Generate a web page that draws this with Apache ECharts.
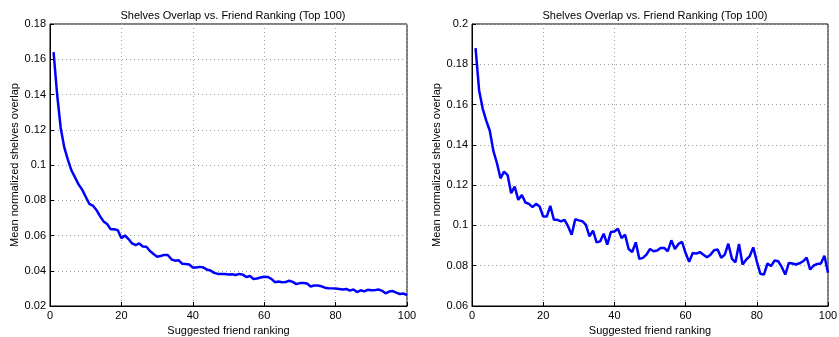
<!DOCTYPE html>
<html>
<head>
<meta charset="utf-8">
<script src="https://cdn.jsdelivr.net/npm/echarts@6/dist/echarts.min.js"></script>
<style>
  html, body { margin: 0; padding: 0; background: #fff; }
  #chart { width: 839px; height: 337px; }
</style>
</head>
<body>
<div id="chart"></div>
<script>
// mean normalized shelves overlap, rank 1..100
var leftValues = [
  0.164, 0.140, 0.121, 0.110, 0.103, 0.097, 0.093, 0.089, 0.086, 0.082,
  0.078, 0.077, 0.0745, 0.071, 0.068, 0.0665, 0.0635, 0.0635, 0.063, 0.0585,
  0.0600, 0.0580, 0.0555, 0.0545, 0.0555, 0.0538, 0.0536, 0.0512, 0.0495, 0.0479,
  0.0484, 0.0490, 0.0489, 0.0465, 0.0457, 0.0460, 0.0440, 0.0438, 0.0435, 0.0418,
  0.0418, 0.0422, 0.0418, 0.0406, 0.0401, 0.0388, 0.0382, 0.0381, 0.0381, 0.0379,
  0.0380, 0.0376, 0.0382, 0.0378, 0.0364, 0.0370, 0.0353, 0.0356, 0.0362, 0.0366,
  0.0365, 0.0354, 0.0335, 0.0339, 0.0335, 0.0336, 0.0343, 0.0337, 0.0324, 0.0330,
  0.0331, 0.0328, 0.0311, 0.0316, 0.0316, 0.0312, 0.0304, 0.0301, 0.0300, 0.0299,
  0.0297, 0.0294, 0.0297, 0.0287, 0.0294, 0.0279, 0.0289, 0.0283, 0.0292, 0.0289,
  0.0290, 0.0294, 0.0286, 0.0272, 0.0282, 0.0285, 0.0276, 0.0268, 0.0271, 0.0262
];
var rightValues = [
  0.188, 0.167, 0.158, 0.152, 0.147, 0.137, 0.131, 0.1234, 0.1267, 0.125,
  0.116, 0.1193, 0.1127, 0.1151, 0.1114, 0.1107, 0.1091, 0.1107, 0.1094, 0.1044,
  0.1044, 0.1097, 0.1028, 0.1028, 0.1020, 0.1028, 0.0995, 0.0954, 0.1031, 0.1025,
  0.1021, 0.1003, 0.0946, 0.0974, 0.0916, 0.0921, 0.0959, 0.0905, 0.0967, 0.0970,
  0.0984, 0.0937, 0.0954, 0.0883, 0.0868, 0.0916, 0.0834, 0.0839, 0.0855, 0.0883,
  0.0872, 0.0875, 0.0888, 0.0888, 0.0872, 0.0926, 0.0883, 0.0908, 0.0918, 0.0863,
  0.0819, 0.0863, 0.0860, 0.0868, 0.0855, 0.0842, 0.0855, 0.0877, 0.0880, 0.0839,
  0.0855, 0.0909, 0.0835, 0.0817, 0.0908, 0.0806, 0.0830, 0.0847, 0.0891, 0.0822,
  0.0760, 0.0756, 0.0811, 0.0798, 0.0826, 0.0822, 0.0794, 0.0756, 0.0814, 0.0811,
  0.0806, 0.0812, 0.0822, 0.0840, 0.0781, 0.0801, 0.0809, 0.0811, 0.0850, 0.0765
];
var titleText = 'Shelves Overlap vs. Friend Ranking (Top 100)';
var xName = 'Suggested friend ranking';
var yName = 'Mean normalized shelves overlap';

function pairs(vals) {
  return vals.map(function (v, i) { return [i + 1, v]; });
}

var font = 'Liberation Sans, Arial, sans-serif';
var lbl = {color: '#000', fontSize: 11, fontFamily: font};
var gridLine = {show: true, lineStyle: {color: '#a0a0a0', type: [1, 3], width: 1}};

function xAxis(idx) {
  return {
    type: 'value', gridIndex: idx, min: 0, max: 100, interval: 20,
    name: xName, nameLocation: 'middle', nameGap: 16,
    nameTextStyle: lbl,
    axisLine: {show: true, lineStyle: {color: '#000', width: 1}},
    axisTick: {show: true, inside: true, length: 4, lineStyle: {color: '#000'}},
    axisLabel: {color: '#000', fontSize: 11, fontFamily: font, margin: 4},
    splitLine: gridLine
  };
}

function yAxis(idx, min, max, gap) {
  return {
    type: 'value', gridIndex: idx, min: min, max: max, interval: 0.02,
    name: yName, nameLocation: 'middle', nameGap: gap,
    nameTextStyle: lbl,
    axisLine: {show: true, lineStyle: {color: '#000', width: 1}},
    axisTick: {show: true, inside: true, length: 4, lineStyle: {color: '#000'}},
    axisLabel: {
      color: '#000', fontSize: 11, fontFamily: font, margin: 4,
      formatter: function (v) { return String(+v.toFixed(2)); }
    },
    splitLine: gridLine
  };
}

var myChart = echarts.init(document.getElementById('chart'));
var option = {
  animation: false,
  backgroundColor: '#fff',
  title: [
    {text: titleText, left: 228, top: 5, textAlign: 'center',
      textStyle: {fontSize: 11, fontWeight: 'normal', color: '#000', fontFamily: font}},
    {text: titleText, left: 650, top: 5, textAlign: 'center',
      textStyle: {fontSize: 11, fontWeight: 'normal', color: '#000', fontFamily: font}}
  ],
  grid: [
    {left: 50, right: 432, top: 24, bottom: 31, show: true, borderColor: '#000', borderWidth: 1,
      containLabel: false, outerBoundsMode: 'none'},
    {left: 472, right: 11, top: 24, bottom: 31, show: true, borderColor: '#000', borderWidth: 1,
      containLabel: false, outerBoundsMode: 'none'}
  ],
  xAxis: [xAxis(0), xAxis(1)],
  yAxis: [yAxis(0, 0.02, 0.18, 30), yAxis(1, 0.06, 0.2, 27)],
  series: [
    {type: 'line', xAxisIndex: 0, yAxisIndex: 0, data: pairs(leftValues),
      showSymbol: false, lineStyle: {color: '#0000ff', width: 2.5}},
    {type: 'line', xAxisIndex: 1, yAxisIndex: 1, data: pairs(rightValues),
      showSymbol: false, lineStyle: {color: '#0000ff', width: 2.5}}
  ]
};
myChart.setOption(option);
</script>
</body>
</html>
